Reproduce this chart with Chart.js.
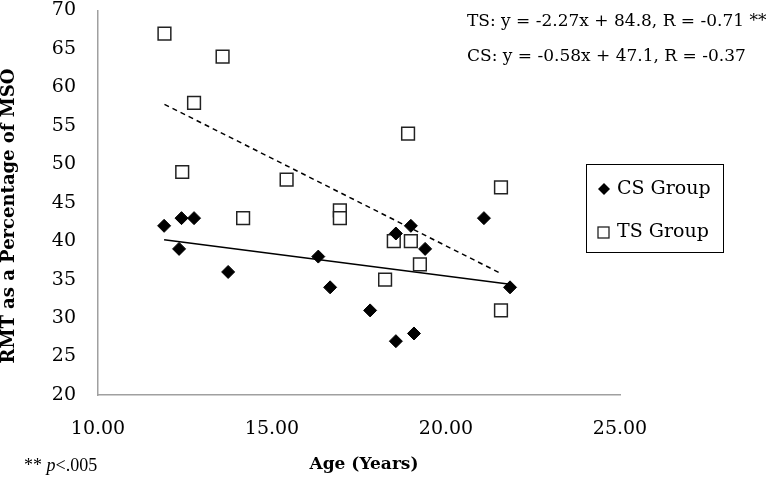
<!DOCTYPE html>
<html>
<head>
<meta charset="utf-8">
<script src="https://cdn.jsdelivr.net/npm/chart.js@4/dist/chart.umd.min.js"></script>
<style>
  html, body { margin: 0; padding: 0; background: #fff; }
  #wrap { width: 766px; height: 483px; }
</style>
</head>
<body>
<div id="wrap"><canvas id="c" width="766" height="483"></canvas></div>
<script>
// 数据
const csAge = [11.9, 12.4, 12.76, 12.33, 13.74, 16.33, 16.67, 17.82, 18.56, 19.08, 18.56, 18.99, 19.4, 21.09, 21.84];
const csRmt = [42, 43, 43, 39, 36, 38, 34, 31, 27, 28, 41, 42, 39, 43, 34];
const tsAge = [11.91, 13.58, 12.76, 12.42, 15.42, 14.17, 16.95, 16.95, 18.91, 18.5, 18.99, 19.25, 18.25, 21.58, 21.58];
const tsRmt = [67, 64, 58, 49, 48, 43, 44, 43, 54, 40, 40, 37, 35, 47, 31];

// 趋势线端点
const tsFitAge = [11.91, 21.58];
const tsFitRmt = [57.8, 35.8];
const csFitAge = [11.9, 21.84];
const csFitRmt = [40.2, 34.4];

const xTicks = [10, 15, 20, 25];
const yTicks = [20, 25, 30, 35, 40, 45, 50, 55, 60, 65, 70];

const seriesNames = ['CS Group', 'TS Group'];
const fitNotes = [
  'TS: y = -2.27x + 84.8, R = -0.71 **',
  'CS: y = -0.58x + 47.1, R = -0.37'
];
const xTitle = 'Age (Years)';
const yTitle = 'RMT as a Percentage of MSO';

const toPts = (xs, ys) => xs.map((x, i) => ({ x: x, y: ys[i] }));

const SERIF = '"DejaVu Serif", serif';
const TIMES = '"Liberation Serif", serif';

// 坐标轴标题、注释和图例
const extras = {
  id: 'extras',
  afterDraw(chart) {
    const ctx = chart.ctx;
    ctx.save();
    ctx.fillStyle = '#000';
    ctx.textBaseline = 'middle';

    // y 轴标题
    ctx.save();
    ctx.translate(9, 216);
    ctx.rotate(-Math.PI / 2);
    ctx.textAlign = 'center';
    ctx.font = 'bold 18px ' + SERIF;
    ctx.fillText(yTitle, 0, 0);
    ctx.restore();

    // x 轴标题
    ctx.textAlign = 'center';
    ctx.font = 'bold 17px ' + SERIF;
    ctx.fillText(xTitle, 364, 465);

    // 脚注
    ctx.textAlign = 'left';
    ctx.font = '18px ' + TIMES;
    ctx.fillText('** ', 24, 466);
    let w = ctx.measureText('** ').width;
    ctx.font = 'italic 18px ' + TIMES;
    ctx.fillText('p', 24 + w, 466);
    w += ctx.measureText('p').width;
    ctx.font = '18px ' + TIMES;
    ctx.fillText('<.005', 24 + w, 466);

    // 回归方程
    ctx.font = '17px ' + SERIF;
    ctx.fillText(fitNotes[0], 467, 22);
    ctx.fillText(fitNotes[1], 467, 57);

    // 图例
    ctx.strokeStyle = '#000';
    ctx.lineWidth = 1;
    ctx.strokeRect(586.5, 164.5, 137, 88);
    ctx.font = '19px ' + SERIF;
    ctx.fillText(seriesNames[0], 617, 189);
    ctx.fillText(seriesNames[1], 617, 232);
    ctx.beginPath();
    ctx.moveTo(604, 183); ctx.lineTo(610, 189); ctx.lineTo(604, 195); ctx.lineTo(598, 189);
    ctx.closePath();
    ctx.fill();
    ctx.lineWidth = 1.3;
    ctx.strokeStyle = '#222';
    ctx.strokeRect(598, 227, 11, 11);
    ctx.restore();
  }
};

new Chart(document.getElementById('c').getContext('2d'), {
  type: 'scatter',
  data: {
    datasets: [
      {
        label: seriesNames[0],
        data: toPts(csAge, csRmt),
        pointStyle: 'rectRot',
        pointRadius: 6.5,
        backgroundColor: '#000',
        borderColor: '#000',
        borderWidth: 1,
        order: 0
      },
      {
        label: seriesNames[1],
        data: toPts(tsAge, tsRmt),
        pointStyle: 'rect',
        pointRadius: 9,
        backgroundColor: '#fff',
        borderColor: '#222',
        borderWidth: 1.5,
        order: 0
      },
      {
        label: 'TS fit',
        type: 'line',
        data: toPts(tsFitAge, tsFitRmt),
        showLine: true,
        pointRadius: 0,
        borderColor: '#000',
        borderWidth: 1.5,
        borderDash: [5, 4],
        fill: false,
        order: 1
      },
      {
        label: 'CS fit',
        type: 'line',
        data: toPts(csFitAge, csFitRmt),
        showLine: true,
        pointRadius: 0,
        borderColor: '#000',
        borderWidth: 1.5,
        fill: false,
        order: 1
      }
    ]
  },
  options: {
    responsive: false,
    animation: false,
    layout: { padding: { top: 9.5, right: 146, bottom: 0, left: 0 } },
    plugins: {
      legend: { display: false },
      tooltip: { enabled: false }
    },
    scales: {
      x: {
        type: 'linear',
        min: 10,
        max: 25,
        afterBuildTicks: s => { s.ticks = xTicks.map(v => ({ value: v })); },
        afterFit: s => { s.height = 88; s.paddingLeft = 0; s.paddingRight = 0; },
        grid: { display: false, drawTicks: false },
        border: { display: true, color: '#a0a0a0', width: 1.5 },
        ticks: {
          padding: 23,
          color: '#000',
          font: { family: SERIF, size: 19 },
          callback: v => Number(v).toFixed(2)
        }
      },
      y: {
        type: 'linear',
        min: 20,
        max: 70,
        afterBuildTicks: s => { s.ticks = yTicks.map(v => ({ value: v })); },
        afterFit: s => { s.width = 98; s.paddingTop = 0; s.paddingBottom = 0; },
        grid: { display: false, drawTicks: false },
        border: { display: true, color: '#a0a0a0', width: 1.5 },
        ticks: {
          padding: 22,
          color: '#000',
          font: { family: SERIF, size: 19 }
        }
      }
    }
  },
  plugins: [extras]
});
</script>
</body>
</html>
